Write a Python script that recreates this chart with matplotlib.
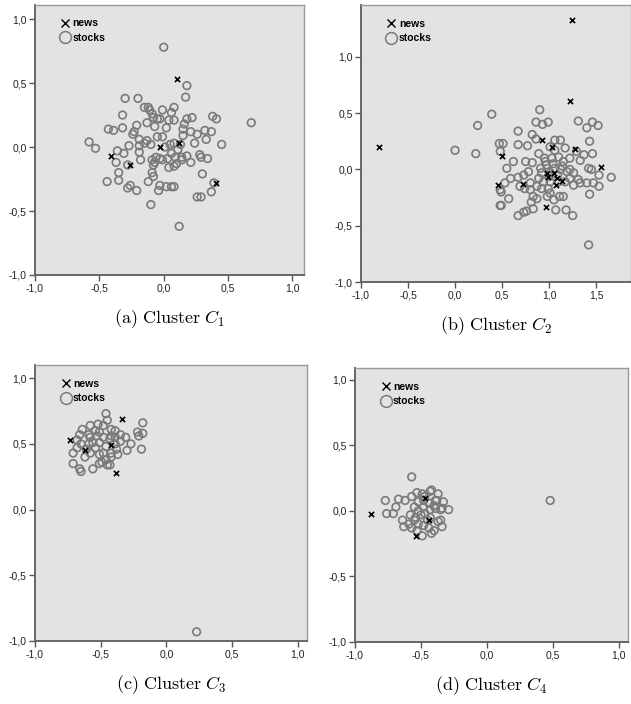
import matplotlib
matplotlib.use("Agg")
import matplotlib.pyplot as plt
from matplotlib.lines import Line2D
from matplotlib.ticker import FuncFormatter, MultipleLocator

plt.rcParams["font.family"] = "Liberation Sans"
plt.rcParams["mathtext.fontset"] = "cm"

# ---- cluster C1 ----
C1_STOCKS_X = [0.00, 0.18, 0.17, 0.68, -0.30, -0.20, -0.32, -0.43, -0.39, -0.32,
               -0.58, -0.53, -0.44, -0.35, -0.35, -0.37, -0.36, -0.31, -0.27, -0.28,
               -0.26, -0.28, -0.21, -0.10, 0.12, 0.26, 0.29, 0.37, 0.39, 0.30,
               0.34, 0.28, 0.21, 0.45, 0.33, 0.26, 0.32, 0.37, 0.38, 0.41,
               0.22, 0.18, 0.16, 0.15, 0.15, 0.21, 0.24, 0.18, 0.14, 0.10,
               0.08, 0.04, 0.06, 0.02, -0.03, -0.04, 0.08, -0.12, -0.08, -0.09,
               -0.08, -0.07, -0.03, -0.01, 0.03, 0.06, -0.05, -0.01, -0.10, -0.15,
               -0.19, -0.19, -0.19, -0.18, -0.24, -0.21, -0.15, -0.12, -0.11, -0.09,
               -0.13, -0.08, -0.07, -0.05, -0.03, -0.01, 0.08, 0.06, 0.04, 0.08,
               0.02, 0.13, 0.05, 0.01, 0.08, -0.13, 0.14, 0.09, -0.06, -0.09,
               0.29, -0.23, 0.11]
C1_STOCKS_Y = [0.78, 0.48, 0.39, 0.19, 0.38, 0.38, 0.25, 0.14, 0.13, 0.15,
               0.04, -0.01, -0.27, -0.26, -0.20, -0.12, -0.03, -0.05, 0.01, -0.14,
               -0.30, -0.32, -0.34, -0.45, -0.62, -0.39, -0.39, -0.35, -0.28, -0.21,
               -0.09, -0.06, -0.12, 0.02, 0.06, 0.10, 0.13, 0.12, 0.24, 0.22,
               0.23, 0.22, 0.18, 0.14, 0.09, 0.12, 0.03, -0.07, -0.10, -0.13,
               -0.15, -0.16, -0.31, -0.31, -0.30, -0.34, -0.31, -0.27, -0.23, -0.20,
               -0.14, -0.12, -0.09, -0.10, -0.09, -0.05, 0.08, 0.08, 0.02, 0.03,
               0.06, 0.01, -0.04, -0.10, 0.10, 0.17, 0.31, 0.31, 0.29, 0.26,
               0.19, 0.23, 0.16, 0.22, 0.22, 0.29, 0.31, 0.27, 0.21, 0.21,
               0.15, 0.02, 0.02, 0.00, 0.03, 0.05, -0.08, -0.08, -0.08, -0.10,
               -0.08, 0.12, -0.02]
C1_NEWS_X = [0.10, -0.41, -0.26, -0.03, 0.12, 0.41]
C1_NEWS_Y = [0.53, -0.07, -0.14, 0.00, 0.03, -0.28]

# ---- cluster C2 ----
C2_STOCKS_X = [0.39, 0.24, 0.22, 0.90, 0.86, 0.93, 0.99, 1.31, 1.40, 1.46,
               1.52, 0.67, 0.51, 0.48, 0.67, 0.77, 0.82, 0.86, 1.43, 1.46,
               1.37, 0.62, 0.55, 0.75, 0.82, 0.89, 0.91, 1.06, 1.12, 1.17,
               1.01, 1.06, 1.22, 1.29, 1.33, 1.42, 1.45, 1.53, 1.66, 1.53,
               1.47, 1.43, 1.33, 1.26, 1.15, 1.18, 1.25, 1.07, 1.05, 1.11,
               0.83, 0.76, 0.73, 0.67, 0.81, 0.83, 0.57, 0.49, 0.49, 0.53,
               0.59, 0.67, 0.73, 0.69, 0.74, 0.80, 0.87, 0.92, 0.99, 0.94,
               0.89, 1.01, 1.10, 1.17, 1.22, 1.26, 1.31, 1.22, 1.15, 1.10,
               1.03, 0.96, 0.92, 1.01, 1.06, 1.12, 1.19, 1.40, 1.42, 0.98,
               1.01, 0.78, 0.80, 0.87, 0.00, 0.47, 0.48, 0.48, 0.97, 1.04,
               1.09, 1.14, 0.95, 1.00]
C2_STOCKS_Y = [0.49, 0.39, 0.14, 0.53, 0.42, 0.40, 0.42, 0.43, 0.37, 0.42,
               0.39, 0.34, 0.23, 0.16, 0.22, 0.21, 0.31, 0.27, 0.25, 0.14,
               0.13, 0.07, 0.01, 0.07, 0.06, 0.14, 0.01, 0.26, 0.26, 0.19,
               0.20, 0.17, 0.10, 0.16, 0.08, 0.01, 0.00, -0.05, -0.07, -0.15,
               -0.12, -0.22, -0.12, -0.14, -0.24, -0.36, -0.41, -0.36, -0.27, -0.24,
               -0.35, -0.37, -0.38, -0.41, -0.29, -0.24, -0.26, -0.20, -0.32, -0.12,
               -0.08, -0.07, -0.05, -0.15, -0.17, -0.18, -0.15, -0.17, -0.17, -0.11,
               -0.08, -0.11, -0.11, -0.11, -0.08, -0.03, -0.09, 0.00, 0.07, 0.11,
               0.10, 0.07, -0.03, -0.03, 0.01, 0.00, -0.02, -0.12, -0.67, -0.24,
               -0.21, -0.02, -0.12, -0.26, 0.17, 0.23, -0.18, -0.32, 0.04, 0.05,
               -0.05, 0.03, 0.10, -0.06]
C2_NEWS_X = [1.24, 1.22, -0.81, 0.92, 0.50, 0.46, 0.72, 0.97, 1.03, 1.28,
             1.55, 0.99, 1.08, 1.05, 1.14, 1.07, 0.98]
C2_NEWS_Y = [1.33, 0.61, 0.20, 0.26, 0.12, -0.14, -0.13, -0.33, 0.20, 0.18,
             0.02, -0.07, -0.08, -0.03, -0.10, -0.14, -0.03]

# ---- cluster C3 ----
C3_STOCKS_X = [-0.46, -0.45, -0.64, -0.58, -0.52, -0.48, -0.42, -0.39, -0.18, -0.18,
               -0.22, -0.21, -0.19, -0.27, -0.30, -0.31, -0.35, -0.35, -0.38, -0.42,
               -0.43, -0.45, -0.51, -0.56, -0.65, -0.66, -0.71, -0.71, -0.68, -0.65,
               -0.62, -0.58, -0.54, -0.51, -0.53, -0.58, -0.61, -0.48, -0.51, -0.46,
               -0.43, -0.48, -0.51, -0.42, -0.39, -0.46, -0.49, -0.39, -0.56, -0.59,
               -0.68, -0.66, -0.54, -0.59, -0.37, -0.42, 0.23]
C3_STOCKS_Y = [0.73, 0.68, 0.61, 0.64, 0.65, 0.64, 0.61, 0.60, 0.66, 0.58,
               0.59, 0.56, 0.46, 0.50, 0.45, 0.55, 0.57, 0.52, 0.46, 0.43,
               0.34, 0.34, 0.35, 0.31, 0.29, 0.31, 0.35, 0.43, 0.47, 0.50,
               0.40, 0.43, 0.47, 0.51, 0.56, 0.55, 0.46, 0.43, 0.42, 0.48,
               0.54, 0.55, 0.59, 0.56, 0.55, 0.38, 0.36, 0.50, 0.51, 0.50,
               0.53, 0.57, 0.60, 0.57, 0.42, 0.40, -0.93]
C3_NEWS_X = [-0.73, -0.34, -0.42, -0.38, -0.62]
C3_NEWS_Y = [0.53, 0.69, 0.49, 0.28, 0.45]

# ---- cluster C4 ----
C4_STOCKS_X = [-0.57, -0.77, -0.76, -0.71, -0.67, -0.69, -0.62, -0.64, -0.63, -0.59,
               -0.58, -0.53, -0.57, -0.49, -0.43, -0.42, -0.37, -0.38, -0.33, -0.29,
               -0.34, -0.39, -0.44, -0.48, -0.52, -0.55, -0.54, -0.50, -0.47, -0.43,
               -0.52, -0.48, -0.44, -0.40, -0.42, -0.49, -0.53, -0.57, -0.35, -0.35,
               -0.45, -0.37, -0.34, -0.39, -0.47, 0.48, -0.52, -0.48, -0.55, -0.43,
               -0.40]
C4_STOCKS_Y = [0.26, 0.08, -0.02, -0.02, 0.09, 0.03, 0.08, -0.07, -0.12, -0.10,
               -0.03, 0.14, 0.11, 0.13, 0.15, 0.16, 0.13, 0.08, 0.07, 0.01,
               0.02, 0.02, 0.06, 0.08, 0.07, 0.03, -0.05, -0.03, -0.02, 0.01,
               -0.10, -0.11, -0.13, -0.15, -0.17, -0.19, -0.15, -0.13, -0.07, 0.01,
               -0.07, -0.08, -0.12, 0.08, 0.11, 0.08, 0.00, 0.03, -0.07, -0.05,
               0.04]
C4_NEWS_X = [-0.88, -0.47, -0.44, -0.54]
C4_NEWS_Y = [-0.02, 0.10, -0.07, -0.19]

CAPTIONS = [r"$\mathrm{(a)\ Cluster}\ C_1$", r"$\mathrm{(b)\ Cluster}\ C_2$",
            r"$\mathrm{(c)\ Cluster}\ C_3$", r"$\mathrm{(d)\ Cluster}\ C_4$"]

BG = "#e3e3e3"
CIRCLE = "#7a7a7a"


def comma_fmt(v, pos):
    return f"{v:.1f}".replace(".", ",").replace("-0,0", "0,0")


def draw_panel(fig, rect, sx, sy, nx, ny, xlim, ylim, caption):
    ax = fig.add_axes(rect)
    ax.set_facecolor(BG)
    ax.scatter(sx, sy, s=30, facecolors="none", edgecolors=CIRCLE, linewidths=1.2, zorder=2)
    ax.scatter(nx, ny, s=14, marker="x", color="black", linewidths=1.2, zorder=3)
    ax.set_xlim(*xlim)
    ax.set_ylim(*ylim)
    ax.xaxis.set_major_locator(MultipleLocator(0.5))
    ax.yaxis.set_major_locator(MultipleLocator(0.5))
    ax.xaxis.set_major_formatter(FuncFormatter(comma_fmt))
    ax.yaxis.set_major_formatter(FuncFormatter(comma_fmt))
    ax.tick_params(labelsize=7.5, length=4, width=1, color="#555555", pad=2,
                   labelcolor="#222222")
    for side in ("left", "bottom"):
        ax.spines[side].set_color("#666666")
        ax.spines[side].set_linewidth(1.4)
    for side in ("top", "right"):
        ax.spines[side].set_color("#999999")
        ax.spines[side].set_linewidth(1.0)
    handles = [
        Line2D([], [], marker="x", color="black", linestyle="none", markersize=6,
               markeredgewidth=1.0, label="news"),
        Line2D([], [], marker="o", markerfacecolor="none", markeredgecolor=CIRCLE,
               linestyle="none", markersize=8.5, markeredgewidth=1.1, label="stocks"),
    ]
    ax.legend(handles=handles, loc="upper left", frameon=False,
              prop={"size": 7.5, "weight": "bold"}, handletextpad=0.1,
              handlelength=1.2, labelspacing=0.45, borderaxespad=0.5,
              bbox_to_anchor=(0.055, 0.985))
    fig.text(rect[0] + rect[2] / 2, rect[1] - 0.062, caption, ha="center", va="center",
             fontsize=13)
    return ax


fig = plt.figure(figsize=(6.31, 7.04), dpi=100)
fig.patch.set_facecolor("white")

draw_panel(fig, [0.0555, 0.6094, 0.4263, 0.3835], C1_STOCKS_X, C1_STOCKS_Y,
           C1_NEWS_X, C1_NEWS_Y, (-1.0, 1.09), (-1.0, 1.11), CAPTIONS[0])
draw_panel(fig, [0.5721, 0.5994, 0.4279, 0.3935], C2_STOCKS_X, C2_STOCKS_Y,
           C2_NEWS_X, C2_NEWS_Y, (-1.0, 1.87), (-1.0, 1.46), CAPTIONS[1])
draw_panel(fig, [0.0555, 0.0895, 0.4310, 0.3920], C3_STOCKS_X, C3_STOCKS_Y,
           C3_NEWS_X, C3_NEWS_Y, (-1.0, 1.07), (-1.0, 1.10), CAPTIONS[2])
draw_panel(fig, [0.5626, 0.0881, 0.4326, 0.3890], C4_STOCKS_X, C4_STOCKS_Y,
           C4_NEWS_X, C4_NEWS_Y, (-1.0, 1.07), (-1.0, 1.09), CAPTIONS[3])

fig.savefig("out.png", dpi=100, facecolor="white")
